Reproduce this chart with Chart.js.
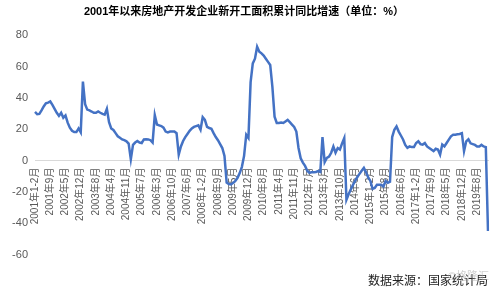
<!DOCTYPE html>
<html>
<head>
<meta charset="utf-8">
<script src="https://cdn.jsdelivr.net/npm/chart.js@4.4.1/dist/chart.umd.min.js"></script>
<style>
  html, body { margin: 0; padding: 0; background: #fff; }
  #wrap { width: 499px; height: 292px; }
</style>
</head>
<body>
<div id="wrap"><canvas id="chart" width="499" height="292"></canvas></div>
<script>
// tick labels, one every 7 months
const tickLabels = [
  "2001年1-2月", "2001年9月", "2002年5月", "2002年12月", "2003年8月", "2004年4月",
  "2004年11月", "2005年7月", "2006年3月", "2006年10月", "2007年6月", "2008年1-2月",
  "2008年9月", "2009年5月", "2009年12月", "2010年8月", "2011年4月", "2011年11月",
  "2012年7月", "2013年3月", "2013年10月", "2014年6月", "2015年1-2月", "2015年8月",
  "2016年6月", "2017年1-2月", "2017年9月", "2018年5月", "2018年12月", "2019年8月"
];
const labelEvery = 7;

// 新开工面积累计同比 (%), 2001年1-2月 .. 2020年1-2月
const growth = [
  31, 29.6, 29.8, 32, 34.5, 36.5, 37, 37.7, 35.5, 33, 30.5,
  28.5, 30.5, 27.3, 28.8, 24.2, 21, 19, 18.2, 18.2, 20.5, 18,
  50.4, 36, 32.5, 32, 31.3, 30.5, 30.5, 31.3, 30.5, 29.8, 29.3,
  33, 24.5, 20.5, 19.5, 17.5, 15.5, 14.5, 13.5, 13, 12.3, 10.8,
  0.8, 10, 11.5, 12.5, 11.5, 11.2, 13.5, 13.6, 13.5, 13, 11.5,
  29, 23, 22.5, 22, 21, 18.5, 18, 18.5, 18.6, 18.5, 17.5,
  3.8, 9, 12.5, 15, 17, 19, 20.5, 21.5, 22, 22.5, 19.7,
  27.7, 26, 21.5, 20.8, 20.3, 17.5, 15, 13, 10.5, 8, 3,
  -14, -15, -15.2, -14.2, -13, -11, -8, -4, 3, 16.5, 14.5,
  50, 62, 65, 72.6, 69.5, 68.4, 67, 65, 63, 61, 47,
  28, 24, 24, 24.3, 24, 25, 26, 24.5, 23, 21.5, 18.5,
  8, 1.5, -1.3, -3.4, -6.5, -7.8, -7.5, -7.5, -7.3, -6.7, -7.3,
  15, -1, 1.7, 2.5, 5, 9, 5, 8, 7, 11, 14.4,
  -25, -21.5, -18.5, -15.5, -13, -10.5, -8.5, -6.5, -4.7, -7.5, -10.7,
  -13, -18, -17.5, -15.5, -15.5, -15.5, -16.5, -13, -14.2, -13.5,
  15, 19.7, 21.8, 18.5, 16, 13.5, 10, 8.1, 9, 8.6, 8.6,
  11.2, 12.3, 10.5, 10.2, 11.2, 9, 8, 7, 6, 7.5, 7,
  3.8, 10.2, 9, 11.2, 13.4, 15.5, 16.5, 16.5, 16.8, 17, 17.5,
  6, 12.3, 13.6, 11, 10.5, 10, 9, 9, 10, 9, 8.6,
  -44.9
];

const yTicks = { min: -60, max: 80, step: 20 };

const categories = growth.map((v, i) => i);

const FONT = "'Liberation Sans', 'Noto Sans CJK SC', sans-serif";

// faint watermark next to the source line
const watermark = {
  id: "watermark",
  afterDraw(chart) {
    const ctx = chart.ctx;
    ctx.save();
    ctx.font = "11px " + FONT;
    ctx.fillStyle = "rgba(170,170,170,0.55)";
    ctx.textBaseline = "middle";
    ctx.fillText("©格隆汇", 448, 277);
    ctx.restore();
  }
};

new Chart(document.getElementById("chart"), {
  type: "line",
  data: {
    labels: categories,
    datasets: [{
      data: growth,
      borderColor: "#4472C4",
      borderWidth: 2.5,
      pointRadius: 0,
      tension: 0,
      fill: false
    }]
  },
  options: {
    responsive: false,
    animation: false,
    layout: { padding: { top: 1, right: 11, bottom: 0, left: 0 } },
    plugins: {
      legend: { display: false },
      tooltip: { enabled: false },
      title: {
        display: true,
        text: "2001年以来房地产开发企业新开工面积累计同比增速（单位：%）",
        color: "#000",
        font: { family: FONT, size: 11, weight: "bold" },
        padding: { top: 4, bottom: 17 }
      },
      subtitle: {
        display: true,
        position: "bottom",
        align: "end",
        text: "数据来源：国家统计局",
        color: "#222",
        font: { family: FONT, size: 12 },
        padding: { top: 20, bottom: 3 }
      }
    },
    scales: {
      x: {
        type: "category",
        position: { y: 0 },
        grid: { display: false, drawTicks: true, tickLength: 6 },
        border: { display: true, color: "#d9d9d9", width: 1 },
        ticks: {
          autoSkip: false,
          maxRotation: 90,
          minRotation: 90,
          padding: 1,
          color: "#595959",
          font: { family: FONT, size: 10 },
          callback: (val, i) => (i % labelEvery === 0 ? tickLabels[i / labelEvery] : null)
        }
      },
      y: {
        min: yTicks.min,
        max: yTicks.max,
        grid: { display: false, drawTicks: false },
        border: { display: false },
        ticks: {
          stepSize: yTicks.step,
          padding: 7,
          color: "#595959",
          font: { family: FONT, size: 11 }
        },
        afterFit(scale) { scale.width = 35; }
      }
    }
  },
  plugins: [watermark]
});
</script>
</body>
</html>
